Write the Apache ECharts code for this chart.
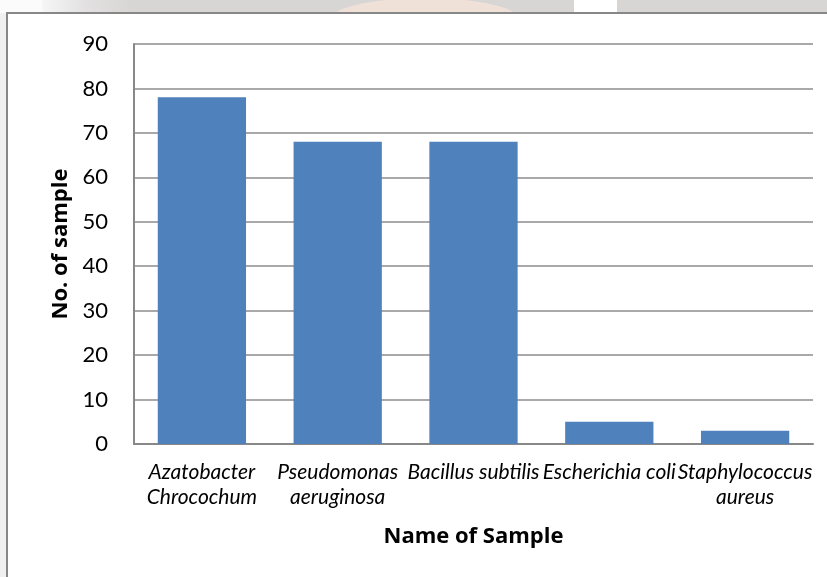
<!DOCTYPE html>
<html>
<head>
<meta charset="utf-8">
<script src="https://cdn.jsdelivr.net/npm/echarts@6/dist/echarts.min.js"></script>
<style>
  html, body { margin: 0; padding: 0; background: #ffffff; }
  #chart { width: 827px; height: 577px; }
</style>
</head>
<body>
<div id="chart"></div>
<script>
// Sample names (wrapped where the label breaks onto two lines)
const categories = [
  'Azatobacter\nChrocochum',
  'Pseudomonas\naeruginosa',
  'Bacillus subtilis',
  'Escherichia coli',
  'Staphylococcus\naureus'
];
// Number of samples per organism
const sampleCounts = [78, 68, 68, 5, 3];
// Value axis ticks
const yTicks = [0, 10, 20, 30, 40, 50, 60, 70, 80, 90];

const chart = echarts.init(document.getElementById('chart'), null, { renderer: 'canvas' });

const FONT = 'Lato, "Noto Sans", sans-serif';
const TITLE_FONT = '"Open Sans", "Noto Sans", sans-serif';

chart.setOption({
  backgroundColor: '#ffffff',
  animation: false,
  graphic: [
    // faded page strip above the chart frame
    { type: 'rect', z: -10, shape: { x: 0, y: 0, width: 827, height: 13 }, style: { fill: '#d8d5d5' } },
    { type: 'rect', z: -9, shape: { x: 0, y: 0, width: 42, height: 13 }, style: { fill: '#fbfbfb' } },
    { type: 'rect', z: -9, shape: { x: 42, y: 0, width: 90, height: 13 },
      style: { fill: new echarts.graphic.LinearGradient(0, 0, 1, 0, [
        { offset: 0, color: '#f6f6f6' }, { offset: 0.5, color: '#e2e0e0' }, { offset: 1, color: '#d8d5d5' }
      ]) } },
    { type: 'ellipse', z: -9, shape: { cx: 425, cy: 20, rx: 95, ry: 22 }, style: { fill: '#efe0d8' } },
    { type: 'rect', z: -9, shape: { x: 574, y: 0, width: 43, height: 13 }, style: { fill: '#ffffff' } },
    // light strip left of the frame
    { type: 'rect', z: -10, shape: { x: 0, y: 13, width: 7, height: 564 }, style: { fill: '#f1f0f0' } },
    // chart frame
    { type: 'rect', z: -8, shape: { x: 7, y: 13, width: 900, height: 700 },
      style: { fill: '#ffffff', stroke: '#878787', lineWidth: 2 } }
  ],
  grid: { left: 134, right: 14, top: 44, bottom: 133, containLabel: false },
  xAxis: {
    type: 'category',
    data: categories,
    name: 'Name of Sample',
    nameLocation: 'middle',
    nameGap: 82,
    nameTextStyle: { fontFamily: TITLE_FONT, fontWeight: 'bold', fontSize: 22, color: '#000' },
    axisLine: { show: true, lineStyle: { color: '#888888', width: 2 } },
    axisTick: { show: false },
    axisLabel: {
      interval: 0,
      margin: 16,
      fontFamily: FONT,
      fontStyle: 'italic',
      fontSize: 21,
      lineHeight: 25,
      color: '#000'
    }
  },
  yAxis: {
    type: 'value',
    min: yTicks[0],
    max: yTicks[yTicks.length - 1],
    interval: yTicks[1] - yTicks[0],
    name: 'No. of sample',
    nameLocation: 'middle',
    nameGap: 60,
    nameRotate: 90,
    nameTextStyle: { fontFamily: TITLE_FONT, fontWeight: 'bold', fontSize: 22, color: '#000' },
    axisLine: { show: true, lineStyle: { color: '#888888', width: 2 } },
    axisTick: { show: false },
    axisLabel: { margin: 26, fontFamily: FONT, fontSize: 22, color: '#000' },
    splitLine: { show: true, lineStyle: { color: '#8c8c8c', width: 1.5 } }
  },
  series: [{
    type: 'bar',
    data: sampleCounts,
    barCategoryGap: '35%',
    itemStyle: { color: '#4f81bd' }
  }]
});
</script>
</body>
</html>
